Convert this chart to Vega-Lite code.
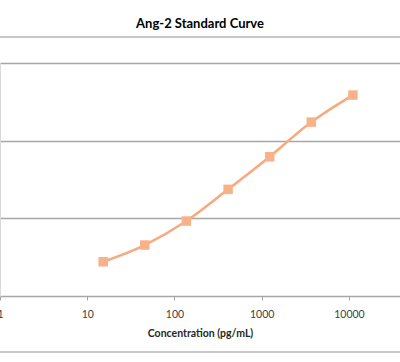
{
  "$schema": "https://vega.github.io/schema/vega-lite/v6.json",
  "width": 400,
  "height": 233,
  "autosize": {"type": "none"},
  "padding": {"top": 63, "left": 0, "right": 0, "bottom": 66},
  "background": "white",
  "title": {
    "text": "Ang-2 Standard Curve",
    "font": "Lato",
    "fontSize": 13,
    "fontWeight": "bold",
    "color": "#000000",
    "anchor": "middle",
    "offset": 5
  },
  "config": {"view": {"stroke": null}},
  "data": {
    "values": [
      {"conc": 15.24, "od": 0.441},
      {"conc": 45.7, "od": 0.656},
      {"conc": 137, "od": 0.965},
      {"conc": 412, "od": 1.373},
      {"conc": 1235, "od": 1.793},
      {"conc": 3704, "od": 2.239},
      {"conc": 11111, "od": 2.587}
    ]
  },
  "layer": [
    {
      "mark": {"type": "rule", "color": "#C8C8C8", "strokeWidth": 2, "clip": false},
      "encoding": {"y": {"datum": 3.335, "type": "quantitative", "scale": {"domain": [0, 3], "nice": false, "zero": false}}}
    },
    {
      "mark": {"type": "rule", "color": "#C8C8C8", "strokeWidth": 2, "clip": false},
      "encoding": {"y": {"datum": -0.721, "type": "quantitative"}}
    },
    {
      "mark": {"type": "line", "color": "#F7A97F", "strokeWidth": 2.5, "interpolate": "monotone"},
      "encoding": {
        "x": {
          "field": "conc",
          "type": "quantitative",
          "scale": {"type": "log", "domain": [1, 38500], "nice": false},
          "axis": {
            "values": [1, 10, 100, 1000, 10000],
            "format": "d",
            "title": "Concentration (pg/mL)",
            "titleFont": "Lato",
            "titleFontSize": 10.5,
            "titleFontWeight": "bold",
            "titleColor": "#262626",
            "titlePadding": 9,
            "labelFont": "Lato",
            "labelFontSize": 10.5,
            "labelColor": "#404040",
            "labelPadding": 9,
            "labelOverlap": false,
            "labelFlush": false,
            "grid": false,
            "domainColor": "#A6A6A6",
            "domainWidth": 1.2,
            "tickColor": "#A6A6A6",
            "tickSize": 4
          }
        },
        "y": {
          "field": "od",
          "type": "quantitative",
          "scale": {"domain": [0, 3], "nice": false, "zero": false},
          "axis": {
            "values": [0, 1, 2, 3],
            "labels": false,
            "ticks": false,
            "title": null,
            "grid": true,
            "gridColor": "#A6A6A6",
            "gridWidth": 1.3,
            "domainColor": "#D9D9D9",
            "domainWidth": 1
          }
        }
      }
    },
    {
      "mark": {"type": "square", "color": "#F9B189", "opacity": 1, "size": 90, "filled": true},
      "encoding": {
        "x": {"field": "conc", "type": "quantitative"},
        "y": {"field": "od", "type": "quantitative"}
      }
    }
  ]
}
